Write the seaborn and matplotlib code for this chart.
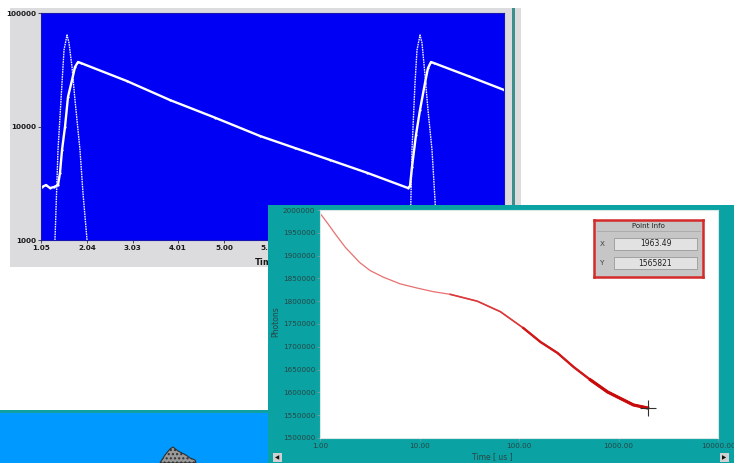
import matplotlib
matplotlib.use("Agg")
import matplotlib.pyplot as plt
import seaborn as sns
from matplotlib.patches import Rectangle, Polygon
from matplotlib.ticker import FixedLocator, FixedFormatter, NullLocator

# ---- upper window: fluorescence decay with excitation pulse (log counts) ----
decay_time = [1.072, 1.158, 1.244, 1.331, 1.417, 1.460, 1.504, 1.568, 1.633, 1.720,
              1.784, 1.849, 1.914, 2.900, 3.836, 4.800, 5.780, 6.540, 7.292, 8.100,
              8.977, 9.020, 9.063, 9.149, 9.236, 9.344, 9.408, 9.473, 9.538, 10.30,
              11.05]
decay_counts = [2930, 3050, 2870, 2930, 3050, 3890, 6210, 9900, 18200, 25700,
                33400, 37000, 36200, 25200, 17100, 12000, 8250, 6450, 5070, 3900,
                2870, 2990, 4400, 8420, 14000, 24200, 32700, 37000, 36200, 27600,
                21000]

pulse1_time = [1.331, 1.352, 1.417, 1.504, 1.547, 1.612, 1.655, 1.720, 1.784, 1.892,
               1.957, 2.044, 2.065]
pulse1_counts = [700, 1000, 6210, 24200, 47200, 64000, 54400, 33400, 17100, 6210,
                 2590, 1000, 700]
pulse2_time = [8.977, 9.020, 9.063, 9.128, 9.171, 9.236, 9.279, 9.344, 9.408, 9.495,
               9.560, 9.603, 9.625]
pulse2_counts = [700, 1000, 6210, 24200, 47200, 64000, 54400, 28400, 14000, 6210,
                 2250, 1000, 700]

top_xticks = [1.05, 2.04, 3.03, 4.01, 5.00, 5.99]
top_xticklabels = ["1.05", "2.04", "3.03", "4.01", "5.00", "5.99"]
top_yticks = [1000, 10000, 100000]
top_yticklabels = ["1000", "10000", "100000"]

# ---- lower window: photon counts on a log time axis ----
photon_time = [1.0, 1.2, 1.45, 1.8, 2.5, 3.2, 4.3, 6.4, 9.4, 13.7, 20.4, 38.1,
               55.2, 65.0, 110.8, 164.6, 244, 354, 524, 777, 1125, 1416, 1963.49]
photons = [1993000, 1970000, 1945000, 1918000, 1885000, 1867000, 1853000, 1838000,
           1829000, 1821000, 1815000, 1800000, 1784000, 1777000, 1741000, 1710500,
           1686400, 1655700, 1627200, 1600900, 1583300, 1572400, 1565821]

cursor_x = 1963.49
cursor_y = 1565821

bottom_xticks = [1, 10, 100, 1000, 10000]
bottom_xticklabels = ["1.00", "10.00", "100.00", "1000.00", "10000.00"]
bottom_yticks = list(range(1500000, 2000001, 50000))
bottom_yticklabels = [str(v) for v in bottom_yticks]

W, H = 734, 463
fig = plt.figure(figsize=(W / 100, H / 100), dpi=100)
fig.patch.set_facecolor("white")


def box(x0, y0, x1, y1):
    return [x0 / W, 1 - y1 / H, (x1 - x0) / W, (y1 - y0) / H]


def fig_rect(x0, y0, x1, y1, color, z, **kw):
    r = Rectangle((x0 / W, 1 - y1 / H), (x1 - x0) / W, (y1 - y0) / H,
                  transform=fig.transFigure, facecolor=color, edgecolor="none",
                  zorder=z, **kw)
    fig.add_artist(r)
    return r


# desktop strip at the bottom left
fig_rect(0, 412, 268, 463, "#0099ff", 0.1)
fig_rect(0, 410, 268, 412.5, "#10a0a0", 0.12)
rock = Polygon([(160 / W, 1 - 463 / H), (165 / W, 1 - 455 / H), (170 / W, 1 - 449 / H),
                (173 / W, 1 - 447 / H), (178 / W, 1 - 451 / H), (186 / W, 1 - 455 / H),
                (190 / W, 1 - 458 / H), (195 / W, 1 - 460 / H), (196 / W, 1 - 463 / H)],
               closed=True, transform=fig.transFigure, facecolor="#9a9a9a",
               edgecolor="#303030", linewidth=0.8, hatch="....", zorder=0.15)
fig.add_artist(rock)

# upper window frame
fig_rect(10, 8, 521, 267, "#dcdcdf", 0.2)
fig_rect(512, 8, 515, 267, "#3e8e8c", 0.25)

ax1 = fig.add_axes(box(41, 13, 504, 240))
ax1.set_zorder(0.3)
ax1.set_facecolor("#0000f4")
sns.lineplot(x=decay_time, y=decay_counts, ax=ax1, sort=False, estimator=None,
             color="white", linewidth=1.7, marker="o", markersize=1.6,
             markeredgewidth=0)
sns.lineplot(x=pulse1_time, y=pulse1_counts, ax=ax1, sort=False, estimator=None,
             color="#f0f0ff", linewidth=1.0, linestyle=(0, (1.2, 0.6)))
sns.lineplot(x=pulse2_time, y=pulse2_counts, ax=ax1, sort=False, estimator=None,
             color="#f0f0ff", linewidth=1.0, linestyle=(0, (1.2, 0.6)))
ax1.set_yscale("log")
ax1.set_xlim(1.05, 11.05)
ax1.set_ylim(1000, 100000)
ax1.yaxis.set_major_locator(FixedLocator(top_yticks))
ax1.yaxis.set_major_formatter(FixedFormatter(top_yticklabels))
ax1.yaxis.set_minor_locator(NullLocator())
ax1.xaxis.set_major_locator(FixedLocator(top_xticks))
ax1.xaxis.set_major_formatter(FixedFormatter(top_xticklabels))
ax1.tick_params(length=2.5, width=0.6, color="#303030", labelsize=5.2,
                labelcolor="#1a1a1a", pad=1)
for lab in ax1.get_xticklabels() + ax1.get_yticklabels():
    lab.set_fontweight("bold")
for s in ax1.spines.values():
    s.set_color("#1818b0")
    s.set_linewidth(0.8)
ax1.set_xlabel("Time", fontsize=6, color="#1a1a1a", ha="left", fontweight="bold")
ax1.xaxis.set_label_coords((255 - 41) / (504 - 41), -0.08)
ax1.set_ylabel("")

# lower window frame
fig_rect(268, 205, 734, 463, "#0aa2a2", 1.0)

ax2 = fig.add_axes(box(320, 210, 718, 438))
ax2.set_zorder(2)
ax2.set_facecolor("white")
# the trace grows heavier toward long times, where the noise thickens it
for t_min, colour, width in ((0, "#e87070", 0.9), (20, "#dc3a3a", 1.2),
                             (100, "#d01818", 1.7), (500, "#c80a0a", 2.3)):
    seg_t = [t for t in photon_time if t >= t_min]
    seg_p = photons[len(photon_time) - len(seg_t):]
    sns.lineplot(x=seg_t, y=seg_p, ax=ax2, sort=False, estimator=None,
                 color=colour, linewidth=width)
ax2.plot([cursor_x], [cursor_y], marker="+", markersize=11, markeredgewidth=0.8,
         color="#303030", zorder=5)
ax2.set_xscale("log")
ax2.set_xlim(1, 10000)
ax2.set_ylim(1500000, 2000000)
ax2.xaxis.set_major_locator(FixedLocator(bottom_xticks))
ax2.xaxis.set_major_formatter(FixedFormatter(bottom_xticklabels))
ax2.xaxis.set_minor_locator(NullLocator())
ax2.yaxis.set_major_locator(FixedLocator(bottom_yticks))
ax2.yaxis.set_major_formatter(FixedFormatter(bottom_yticklabels))
ax2.tick_params(length=2.5, width=0.6, color="#7a9a9a", labelsize=5.2,
                labelcolor="#294545", pad=1)
for s in ax2.spines.values():
    s.set_color("#d8e8e8")
    s.set_linewidth(0.8)
ax2.set_xlabel("")
ax2.set_ylabel("")
fig.text(276 / W, 1 - 322 / H, "Photons", rotation=90, ha="center", va="center",
         fontsize=5.5, color="#294545", zorder=2.5)
fig.text(492 / W, 1 - 457 / H, "Time [ us ]", ha="center", va="center",
         fontsize=5.5, color="#294545", zorder=2.5)

# scroll buttons
for bx, sym in ((273, "\u25c0"), (720, "\u25b6")):
    fig_rect(bx, 453, bx + 9, 462, "#d0d0d0", 2.6)
    fig.text((bx + 4.5) / W, 1 - 457.5 / H, sym, ha="center", va="center",
             fontsize=4, color="#101010", zorder=2.7)

# point info panel
info = fig.add_axes(box(594, 220, 703, 277))
info.set_zorder(3)
info.set_facecolor("#c6c6c6")
info.set_xlim(0, 109)
info.set_ylim(57, 0)
info.set_xticks([])
info.set_yticks([])
for s in info.spines.values():
    s.set_color("#d42a2a")
    s.set_linewidth(1.8)
info.text(54.5, 6, "Point Info", ha="center", va="center", fontsize=5, color="#202020")
info.plot([3, 106], [11, 11], color="#a8a8a8", linewidth=0.6)
for row_y, name, value in ((24, "X", f"{cursor_x:.2f}"), (43, "Y", f"{cursor_y:d}")):
    info.text(8, row_y, name, ha="center", va="center", fontsize=5.2, color="#404040")
    info.add_patch(Rectangle((20, row_y - 6), 83, 12, facecolor="#e2e2e2",
                             edgecolor="#9a9a9a", linewidth=0.6))
    info.text(61.5, row_y, value, ha="center", va="center", fontsize=5.5,
              color="#202020")

fig.savefig("out.png", dpi=100)
